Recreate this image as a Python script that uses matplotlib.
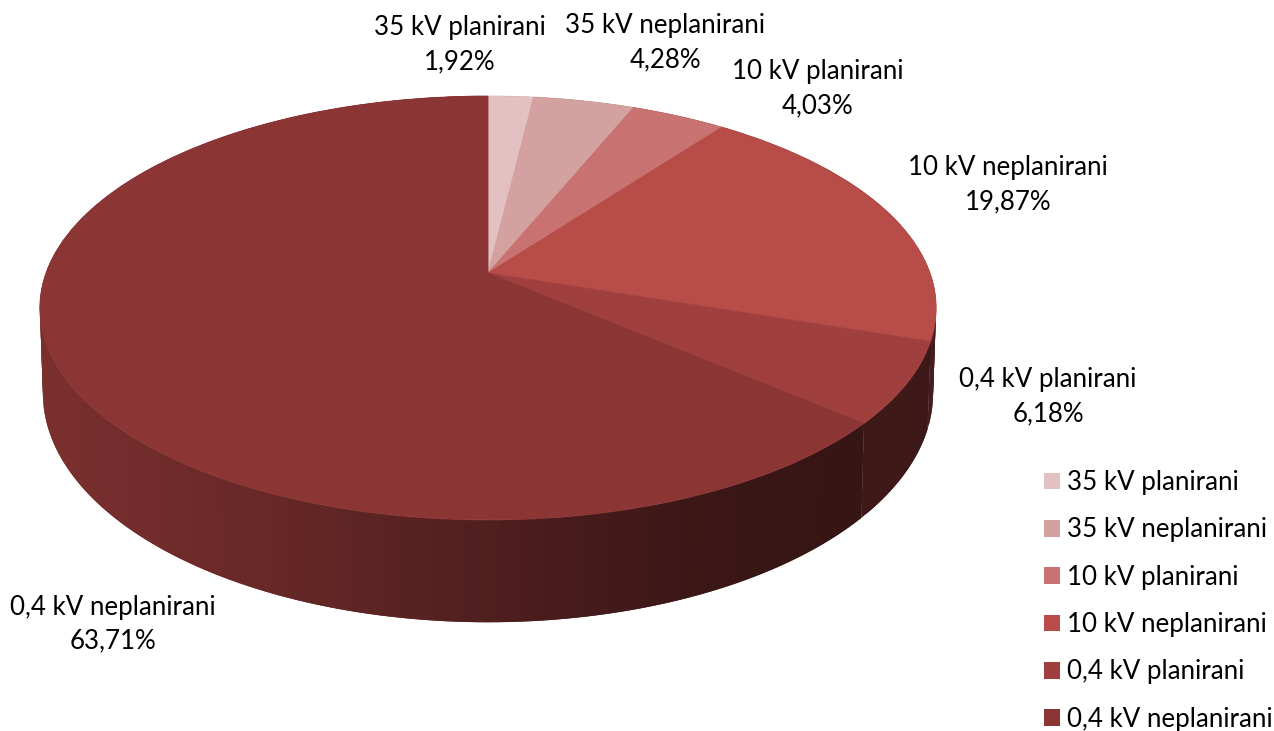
import numpy as np
import matplotlib
matplotlib.use('Agg')
import matplotlib.pyplot as plt
from matplotlib.patches import Patch
from matplotlib.transforms import Transform

names = ['35 kV planirani', '35 kV neplanirani', '10 kV planirani',
         '10 kV neplanirani', '0,4 kV planirani', '0,4 kV neplanirani']
values = [1.92, 4.28, 4.03, 19.87, 6.18, 63.71]
colors = ['#E3C1C2', '#D3A1A0', '#C87371', '#B74C49', '#A0403E', '#8B3635']

# label centres in pixels
label_x = [460, 665, 818, 1008, 1048, 113]
label_y = [45, 43, 89, 185, 397, 624]

plt.rcParams['font.family'] = ['Lato', 'DejaVu Sans']


class Tilt(Transform):
    # unit circle -> perspective ellipse in pixel coords
    input_dims = 2
    output_dims = 2

    def __init__(self, cx, cy, a, b, k):
        super().__init__()
        self.cx, self.cy, self.a, self.b, self.k = cx, cy, a, b, k

    def transform_non_affine(self, xy):
        xy = np.asarray(xy)
        d = 1 + self.k * xy[:, 1]
        return np.column_stack([self.cx + self.b * xy[:, 0] / d,
                                self.cy - self.a * xy[:, 1] / d])


top = Tilt(488, 273, 206.2, 442, 0.165)
low = Tilt(488, 355.3, 222.9, 439, 0.165)

fig = plt.figure(figsize=(12.74, 7.31), dpi=100)
ax = fig.add_axes([0, 0, 1, 1])

wedges, _ = ax.pie(values, colors=colors, startangle=90, counterclock=False,
                   wedgeprops={'linewidth': 0.6})
ax.set_aspect('auto')
ax.set_xlim(0, 1274)
ax.set_ylim(731, 0)

# side wall, darker to the right
for w, c in zip(wedges, colors):
    base = np.array(matplotlib.colors.to_rgb(c))
    th = np.radians(np.arange(w.theta1, w.theta2 + 1.2, 1.2))
    th[-1] = np.radians(w.theta2)
    unit = np.column_stack([np.cos(th), np.sin(th)])
    p1 = top.transform(unit)
    p2 = low.transform(unit)
    for i in range(len(th) - 1):
        xm = (p1[i, 0] + p1[i + 1, 0]) / 2
        f = np.interp(xm, [40, 300, 488, 700, 860, 936],
                      [0.88, 0.72, 0.57, 0.42, 0.39, 0.38])
        j = min(i + 2, len(th) - 1)  # overlap next strip so no seams show
        xs = np.concatenate([p1[i:j + 1, 0], p2[i:j + 1, 0][::-1]])
        ys = np.concatenate([p1[i:j + 1, 1], p2[i:j + 1, 1][::-1]])
        ax.fill(xs, ys, color=base * f, lw=0, zorder=0.5)

# top face
for w, c in zip(wedges, colors):
    w.set_transform(top + ax.transData)
    w.set_edgecolor(c)
    w.set_zorder(2)

for n, v, x, y in zip(names, values, label_x, label_y):
    txt = n + '\n' + ('%.2f%%' % v).replace('.', ',')
    ax.text(x, y, txt, ha='center', va='center', fontsize=18.6,
            color='black', linespacing=1.45, zorder=3)

handles = [Patch(facecolor=c, edgecolor='none') for c in colors]
fig.legend(handles, names, loc='upper left', bbox_to_anchor=(1044 / 1274, 1 - 470 / 731),
           frameon=False, fontsize=18.6, borderpad=0, borderaxespad=0,
           handlelength=0.62, handleheight=0.62, handletextpad=0.27,
           labelspacing=0.865)

fig.savefig('out.png', dpi=100)
